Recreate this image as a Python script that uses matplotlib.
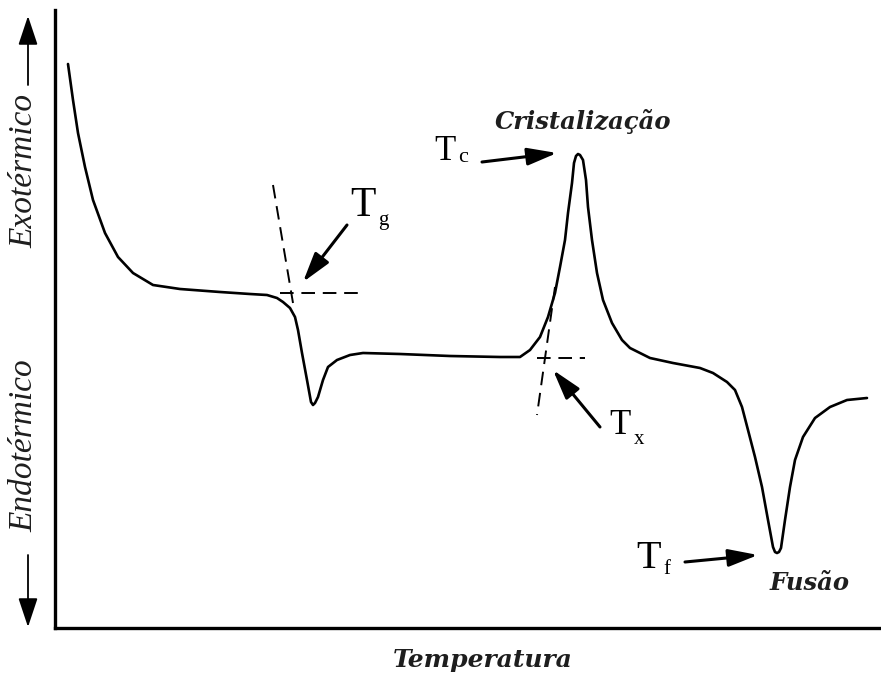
import matplotlib
matplotlib.use("Agg")
import matplotlib.pyplot as plt
from matplotlib.patches import FancyArrowPatch

# DSC curve (arbitrary units: temperature increases to the right, heat flow exo upwards)
temperatura = [13, 18, 23, 30, 38, 50, 63, 78, 98, 125, 165, 195, 212, 222, 228, 235,
               240, 243, 247, 252, 256, 258, 260, 263, 268, 273, 282, 295, 308, 345, 395,
               445, 465, 475, 485, 493, 500, 505, 510, 513, 517, 519, 521, 523, 525, 528,
               531, 533, 537, 542, 548, 557, 567, 575, 595, 618, 645, 658, 672, 680, 687,
               693, 700, 707, 713, 718, 720, 722, 724, 726, 730, 735, 740, 748, 760, 775,
               792, 812]
fluxo = [564, 528, 495, 461, 428, 395, 371, 355, 343, 339, 336, 334, 333, 330, 326, 320,
         311, 298, 275, 248, 226, 223, 225, 231, 248, 261, 268, 273, 275, 274, 272, 271,
         271, 278, 291, 311, 335, 361, 388, 415, 445, 465, 472, 474, 473, 468, 448, 421,
         388, 355, 328, 305, 288, 280, 270, 265, 260, 255, 246, 238, 221, 198, 171, 141,
         108, 81, 76, 75, 76, 80, 108, 141, 168, 191, 210, 221, 228, 230]

# Tangent (onset) construction lines
tg_tangente_x = [218, 238]
tg_tangente_y = [443, 325]
tg_base_x = [225, 307]
tg_base_y = [335, 335]
tx_tangente_x = [500, 482]
tx_tangente_y = [341, 213]
tx_base_x = [482, 530]
tx_base_y = [270, 270]

X0, Y0 = 55, 628  # pixel position of the origin
W, H = 881, 675


def fx(px):
    return px - X0


def fy(py):
    return Y0 - py


fig = plt.figure(figsize=(8.81, 6.75), dpi=100)
ax = fig.add_axes([X0 / W, (H - Y0) / H, (W - X0) / W, (Y0 - 10) / H])
ax.set_xlim(0, W - X0)
ax.set_ylim(0, Y0 - 10)
for s in ["top", "right"]:
    ax.spines[s].set_visible(False)
for s in ["left", "bottom"]:
    ax.spines[s].set_linewidth(2.4)
ax.set_xticks([])
ax.set_yticks([])

ax.plot(temperatura, fluxo, color="black", lw=1.9, solid_capstyle="round",
        solid_joinstyle="round")

dash = (0, (7, 4))
for xs, ys in [(tg_tangente_x, tg_tangente_y), (tg_base_x, tg_base_y),
               (tx_tangente_x, tx_tangente_y), (tx_base_x, tx_base_y)]:
    ax.plot(xs, ys, color="black", lw=1.4, linestyle=dash)

arrow = dict(arrowstyle="-|>,head_length=0.75,head_width=0.22", color="black", lw=2.2,
             mutation_scale=24, shrinkA=0, shrinkB=0)


def seta(x1, y1, x2, y2):
    ax.annotate("", xy=(fx(x2), fy(y2)), xytext=(fx(x1), fy(y1)), arrowprops=arrow)


seta(347, 225, 303, 282)   # Tg
seta(482, 162, 557, 153)   # Tc
seta(600, 427, 553, 370)   # Tx
seta(685, 562, 758, 555)   # Tf

serif = "Liberation Serif"


def label(x, y, main, sub, size, subsize, dx, dy):
    ax.text(fx(x), fy(y), main, family=serif, fontsize=size, ha="center", va="center")
    ax.text(fx(x + dx), fy(y + dy), sub, family=serif, fontsize=subsize, ha="center",
            va="center")


label(363, 206, "T", "g", 30, 15, 20, 14)
label(445, 151, "T", "c", 25, 16, 18, 7)
label(620, 425, "T", "x", 25, 15, 19, 15)
label(649, 558, "T", "f", 29, 15, 18, 12)

bi = dict(family="DejaVu Serif", fontweight="bold", fontstyle="italic", color="#1e1e1e")
ax.text(fx(583), fy(122), "Cristalização", fontsize=17.5, ha="center", va="center", **bi)
ax.text(fx(810), fy(583), "Fusão", fontsize=17.5, ha="center", va="center", **bi)
fig.text(483 / W, 1 - 660 / H, "Temperatura", fontsize=18, ha="center", va="center", **bi)

# y-axis captions with arrows
fig.text(24 / W, 1 - 171 / H, "Exotérmico", family=serif, fontstyle="italic",
         fontsize=24, rotation=90, ha="center", va="center", color="#1e1e1e")
fig.text(24 / W, 1 - 446 / H, "Endotérmico", family=serif, fontstyle="italic",
         fontsize=24, rotation=90, ha="center", va="center", color="#1e1e1e")
farrow = dict(arrowstyle="-|>,head_length=0.9,head_width=0.3", color="black", lw=1.3,
              mutation_scale=20, shrinkA=0, shrinkB=0)
fig.add_artist(FancyArrowPatch((28 / W, 1 - 85 / H), (28 / W, 1 - 16 / H),
                               transform=fig.transFigure, **farrow))
fig.add_artist(FancyArrowPatch((28 / W, 1 - 555 / H), (28 / W, 1 - 627 / H),
                               transform=fig.transFigure, **farrow))

fig.savefig("out.png", dpi=100)
